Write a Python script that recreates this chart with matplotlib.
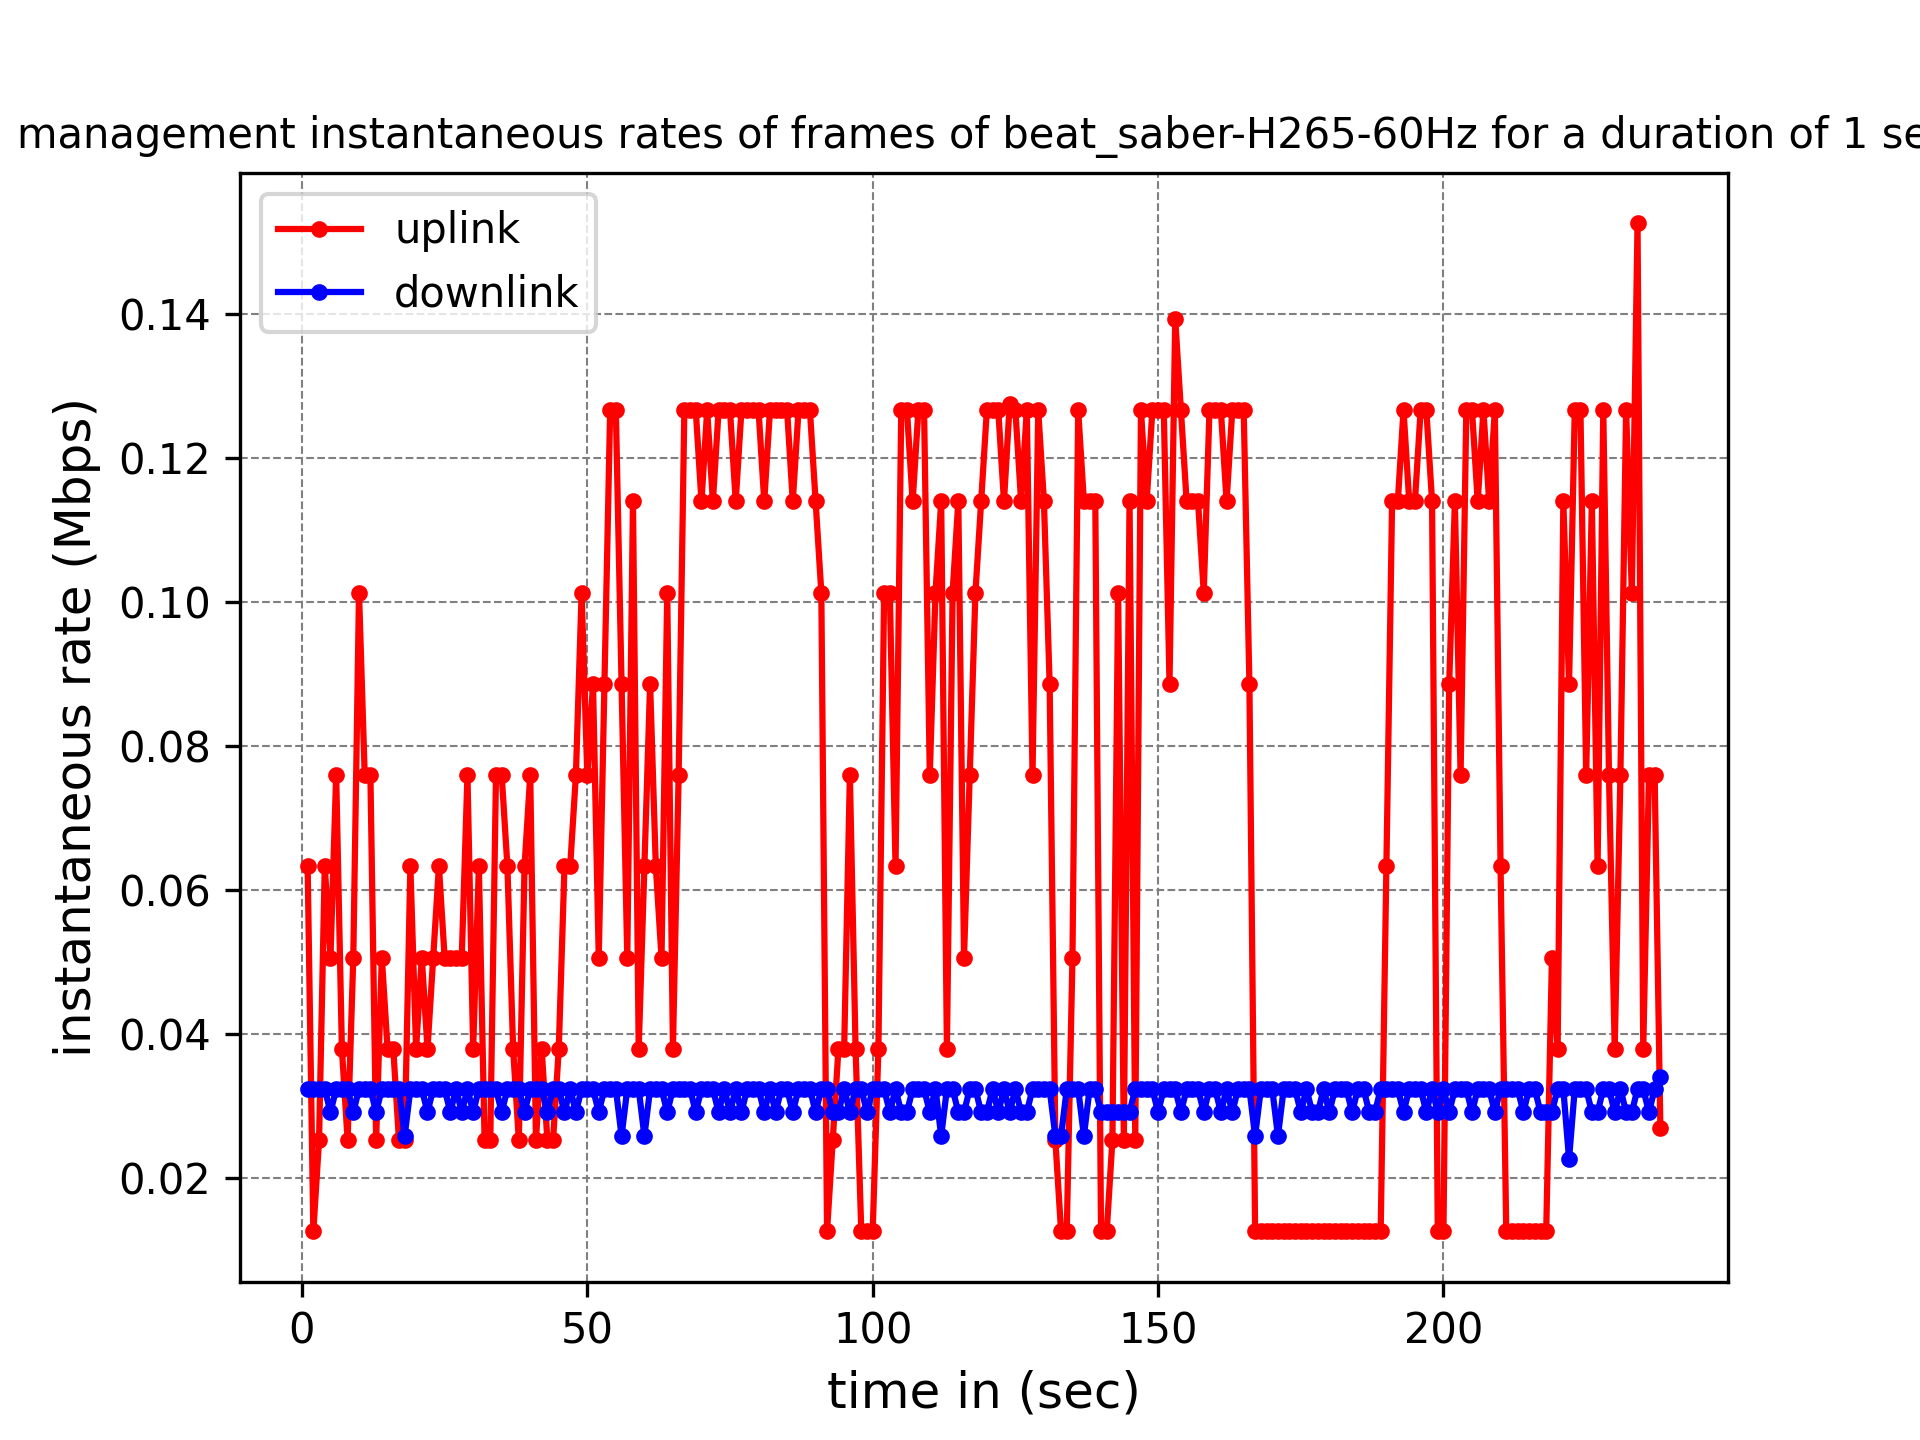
import numpy as np
import matplotlib
matplotlib.use("Agg")
import matplotlib.pyplot as plt

STEP = 0.012667  # one quantization level of the uplink rate (Mbps)

time_sec = list(range(1, 239))

# uplink levels (multiples of STEP) for t = 1..238
uplink_levels = [
    5, 1, 2, 5, 4, 6, 3, 2, 4, 8,          # 1-10
    6, 6, 2, 4, 3, 3, 2, 2, 5, 3,          # 11-20
    4, 3, 4, 5, 4, 4, 4, 4, 6, 3,          # 21-30
    5, 2, 2, 6, 6, 5, 3, 2, 5, 6,          # 31-40
    2, 3, 2, 2, 3, 5, 5, 6, 8, 6,          # 41-50
    7, 4, 7, 10, 10, 7, 4, 9, 3, 5,        # 51-60
    7, 5, 4, 8, 3, 6, 10, 10, 10, 9,       # 61-70
    10, 9, 10, 10, 10, 9, 10, 10, 10, 10,  # 71-80
    9, 10, 10, 10, 10, 9, 10, 10, 10, 9,   # 81-90
    8, 1, 2, 3, 3, 6, 3, 1, 1, 1,          # 91-100
    3, 8, 8, 5, 10, 10, 9, 10, 10, 6,      # 101-110
    8, 9, 3, 8, 9, 4, 6, 8, 9, 10,         # 111-120
    10, 10, 9, 10.07, 10, 9, 10, 6, 10, 9, # 121-130
    7, 2, 1, 1, 4, 10, 9, 9, 9, 1,         # 131-140
    1, 2, 8, 2, 9, 2, 10, 9, 10, 10,       # 141-150
    10, 7, 11, 10, 9, 9, 9, 8, 10, 10,     # 151-160
    10, 9, 10, 10, 10, 7, 1, 1, 1, 1,      # 161-170
    1, 1, 1, 1, 1, 1, 1, 1, 1, 1,          # 171-180
    1, 1, 1, 1, 1, 1, 1, 1, 1, 5,          # 181-190
    9, 9, 10, 9, 9, 10, 10, 9, 1, 1,       # 191-200
    7, 9, 6, 10, 10, 9, 10, 9, 10, 5,      # 201-210
    1, 1, 1, 1, 1, 1, 1, 1, 4, 3,          # 211-220
    9, 7, 10, 10, 6, 9, 5, 10, 6, 3,       # 221-230
    6, 10, 8, 12.05, 3, 6, 6, 2.13,        # 231-238
]
uplink = [lv * STEP for lv in uplink_levels]

# downlink: baseline value and the seconds where it dips
DL_BASE = 0.0324
DL_LOW1 = 0.0292
DL_LOW2 = 0.0259
DL_LOW3 = 0.0227
DL_LAST = 0.0341
dips_low1 = [5, 9, 13, 22, 26, 28, 30, 35, 39, 43, 46, 48, 52, 64, 69, 73, 75,
             77, 81, 83, 86, 90, 93, 94, 96, 99, 103, 105, 106, 110, 115, 116,
             119, 120, 122, 124, 126, 127, 140, 141, 142, 143, 144, 145, 150,
             154, 158, 161, 163, 175, 177, 178, 180, 184, 187, 188, 193, 197,
             199, 201, 205, 209, 214, 217, 218, 219, 226, 227, 230, 232, 233, 236]
dips_low2 = [18, 56, 60, 112, 132, 133, 137, 167, 171]
dips_low3 = [222]

downlink = []
for t in time_sec:
    if t in dips_low3:
        downlink.append(DL_LOW3)
    elif t in dips_low2:
        downlink.append(DL_LOW2)
    elif t in dips_low1:
        downlink.append(DL_LOW1)
    elif t == time_sec[-1]:
        downlink.append(DL_LAST)
    else:
        downlink.append(DL_BASE)

fig, ax = plt.subplots(figsize=(6.4, 4.8), dpi=300)
ax.plot(time_sec, uplink, 'r.-', label='uplink')
ax.plot(time_sec, downlink, 'b.-', label='downlink')
ax.set_title('management instantaneous rates of frames of beat_saber-H265-60Hz for a duration of 1 sec', fontsize=10)
ax.set_xlabel('time in (sec)', fontsize=12)
ax.set_ylabel('instantaneous rate (Mbps)', fontsize=12)
ax.grid(True, linestyle='--', color='gray', linewidth=0.5)
ax.legend(loc='upper left', fontsize=10)
fig.savefig('out.png', dpi=300)
